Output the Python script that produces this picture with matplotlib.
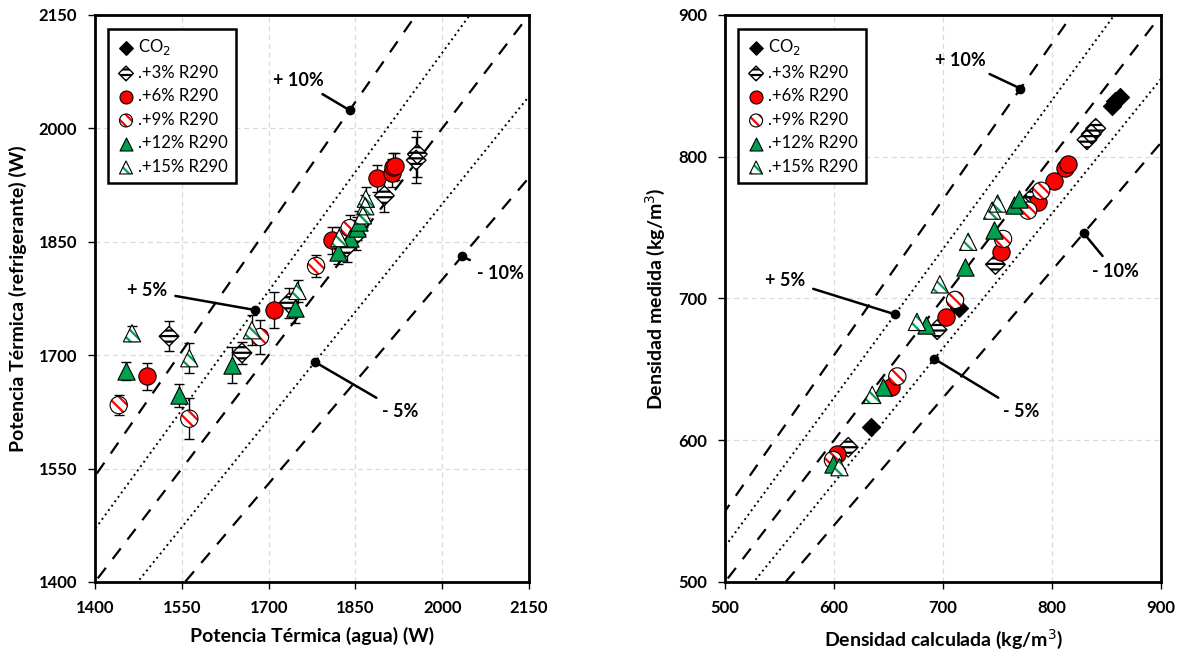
import matplotlib
matplotlib.use("Agg")
import matplotlib.pyplot as plt
import numpy as np

plt.rcParams['font.family'] = ['Lato', 'DejaVu Sans']
plt.rcParams['hatch.linewidth'] = 1.6

# ---------------- Left chart data (Potencia térmica) ----------------
L_co2_x, L_co2_y, L_co2_e = [], [], []
L_3_x = [1528, 1654, 1735, 1835, 1851, 1900, 1955, 1957]
L_3_y = [1725, 1703, 1769, 1843, 1859, 1911, 1958, 1966]
L_3_e = [20, 15, 20, 20, 20, 22, 30, 30]
L_6_x = [1490, 1709, 1810, 1888, 1913, 1915, 1918]
L_6_y = [1672, 1760, 1852, 1934, 1941, 1949, 1950]
L_6_e = [18, 24, 18, 18, 18, 18, 18]
L_9_x = [1441, 1563, 1685, 1782, 1840]
L_9_y = [1634, 1616, 1724, 1818, 1868]
L_9_e = [13, 27, 22, 14, 18]
L_12_x = [1454, 1545, 1637, 1746, 1820, 1840, 1852, 1856]
L_12_y = [1679, 1647, 1687, 1762, 1837, 1855, 1868, 1876]
L_12_e = [12, 15, 24, 20, 17, 15, 15, 15]
L_15_x = [1464, 1563, 1671, 1750, 1822, 1863, 1867, 1868]
L_15_y = [1729, 1696, 1733, 1785, 1855, 1885, 1897, 1907]
L_15_e = [10, 20, 20, 15, 15, 15, 15, 15]

# ---------------- Right chart data (Densidad) ----------------
R_co2_x = [634, 715, 855, 858, 862]
R_co2_y = [609, 693, 836, 839, 842]
R_3_x = [613, 694.5, 748, 776, 783, 832, 836, 840]
R_3_y = [595, 678, 724, 766, 772, 812, 816, 820]
R_6_x = [603, 652, 703, 753, 787, 802, 812, 815]
R_6_y = [590, 637.5, 687, 733, 768, 783, 792, 795]
R_9_x = [599, 658, 711, 755, 778, 790]
R_9_y = [586, 645, 699, 742, 762, 776]
R_12_x = [599, 645, 684, 720, 747, 765, 770]
R_12_y = [583, 637.5, 681, 722, 748, 766, 770]
R_15_x = [605, 635, 676, 697, 723, 745, 750]
R_15_y = [581, 632, 683.5, 710, 740, 762, 767]

labels = ['CO$_2$', '.+3% R290', '.+6% R290', '.+9% R290', '.+12% R290', '.+15% R290']

ref_dashed = [1.0, 1.1, 0.9]
ref_dotted = [1.05, 0.95]

L_ticks = [1400, 1550, 1700, 1850, 2000, 2150]
R_ticks = [500, 600, 700, 800, 900]

# annotations: (label, factor, x of dot, text x, text y)
L_ann = [('+ 10%', 1.10, 1840, 1752, 2064),
         ('+ 5%', 1.05, 1676, 1490, 1785),
         ('- 5%', 0.95, 1780, 1928, 1625),
         ('- 10%', 0.90, 2034, 2100, 1808)]
R_ann = [('+ 10%', 1.10, 771, 716, 868),
         ('+ 5%', 1.05, 656, 555, 713),
         ('- 5%', 0.95, 692, 772, 620),
         ('- 10%', 0.90, 829, 858, 719)]

fig = plt.figure(figsize=(11.83, 6.55), dpi=100)
axL = fig.add_axes([0.0803, 0.1115, 0.3669, 0.8656])
axR = fig.add_axes([0.6129, 0.1115, 0.3686, 0.8656])

MS = 155


def series(ax, x, y, err, kind):
    hs = []
    if err is not None and len(x):
        ax.errorbar(x, y, yerr=err, fmt='none', ecolor='black', elinewidth=1.0,
                    capsize=3.5, capthick=1.0, zorder=3)
    if kind == 'co2':
        h = ax.scatter(x, y, marker='D', s=85, facecolor='black', edgecolor='black',
                       linewidths=0.8, zorder=4)
        hs = [h]
    elif kind == '3':
        h1 = ax.scatter(x, y, marker='D', s=100, facecolor='white', edgecolor='black',
                        linewidths=0, hatch='---', zorder=4)
        h2 = ax.scatter(x, y, marker='D', s=100, facecolor='none', edgecolor='black',
                        linewidths=1.0, zorder=4)
        hs = [h1, h2]
    elif kind == '6':
        h = ax.scatter(x, y, marker='o', s=MS, facecolor='#ff0000', edgecolor='black',
                       linewidths=0.8, zorder=4)
        hs = [h]
    elif kind == '9':
        h1 = ax.scatter(x, y, marker='o', s=MS, facecolor='white', edgecolor='#ff0000',
                        linewidths=0, hatch='\\\\\\', zorder=4)
        h2 = ax.scatter(x, y, marker='o', s=MS, facecolor='none', edgecolor='black',
                        linewidths=0.8, zorder=4)
        hs = [h1, h2]
    elif kind == '12':
        h = ax.scatter(x, y, marker='^', s=MS, facecolor='#00a050', edgecolor='black',
                       linewidths=0.8, zorder=4)
        hs = [h]
    elif kind == '15':
        h1 = ax.scatter(x, y, marker='^', s=MS, facecolor='white', edgecolor='#00a050',
                        linewidths=0, hatch='\\\\\\', zorder=4)
        h2 = ax.scatter(x, y, marker='^', s=MS, facecolor='none', edgecolor='black',
                        linewidths=0.8, zorder=4)
        hs = [h1, h2]
    return tuple(hs) if len(hs) > 1 else hs[0]


def setup(ax, ticks, xlabel, ylabel, ann):
    lo, hi = ticks[0], ticks[-1]
    ext = [lo - 1000, hi + 1000]
    for f in ref_dashed:
        ax.plot(ext, [f * ext[0], f * ext[1]], color='black',
                lw=1.6, ls=(0, (6, 5)), zorder=2)
    for f in ref_dotted:
        ax.plot(ext, [f * ext[0], f * ext[1]], color='black',
                lw=1.4, ls=(0, (1, 1.8)), zorder=2)
    ax.set_xlim(lo, hi)
    ax.set_ylim(lo, hi)
    ax.set_xticks(ticks)
    ax.set_yticks(ticks)
    ax.grid(True, color='#d9d9d9', ls=(0, (4, 3)), lw=0.9, zorder=0)
    ax.set_axisbelow(True)
    for s in ax.spines.values():
        s.set_linewidth(2.0)
        s.set_color('black')
    ax.tick_params(direction='out', length=5, width=1.0, labelsize=12, pad=8)
    for t in ax.get_xticklabels() + ax.get_yticklabels():
        t.set_fontweight('bold')
    ax.set_xlabel(xlabel, fontsize=14, fontweight='bold', labelpad=8)
    ax.set_ylabel(ylabel, fontsize=14, fontweight='bold', labelpad=8)
    for lab, f, xd, tx, ty in ann:
        yd = f * xd
        ax.plot([xd], [yd], 'o', color='black', ms=6, zorder=5)
        ax.annotate(lab, xy=(xd, yd), xytext=(tx, ty), fontsize=13, fontweight='bold',
                    ha='center', va='center',
                    arrowprops=dict(arrowstyle='-', color='black', lw=1.8,
                                    shrinkA=4, shrinkB=0), zorder=5)


# Left chart
hL = [axL.scatter(L_co2_x, L_co2_y, marker='D', s=85, facecolor='black', edgecolor='black'),
      series(axL, L_3_x, L_3_y, L_3_e, '3'),
      series(axL, L_6_x, L_6_y, L_6_e, '6'),
      series(axL, L_9_x, L_9_y, L_9_e, '9'),
      series(axL, L_12_x, L_12_y, L_12_e, '12'),
      series(axL, L_15_x, L_15_y, L_15_e, '15')]
setup(axL, L_ticks, 'Potencia Térmica (agua) (W)', 'Potencia Térmica (refrigerante) (W)', L_ann)

# Right chart
hR = [series(axR, R_co2_x, R_co2_y, None, 'co2'),
      series(axR, R_3_x, R_3_y, None, '3'),
      series(axR, R_6_x, R_6_y, None, '6'),
      series(axR, R_9_x, R_9_y, None, '9'),
      series(axR, R_12_x, R_12_y, None, '12'),
      series(axR, R_15_x, R_15_y, None, '15')]
setup(axR, R_ticks, 'Densidad calculada (kg/m$^3$)', 'Densidad medida (kg/m$^3$)', R_ann)

for ax, hh in ((axL, hL), (axR, hR)):
    leg = ax.legend(hh, labels, loc='upper left', fontsize=12, frameon=True,
                    fancybox=False, edgecolor='black', framealpha=1,
                    handletextpad=0.1, handlelength=1.2, borderpad=0.5,
                    labelspacing=0.45, scatterpoints=1, markerscale=0.75,
                    bbox_to_anchor=(0.01, 0.99))
    leg.get_frame().set_linewidth(1.8)
    leg.set_zorder(10)

fig.savefig('out.png', dpi=100)
